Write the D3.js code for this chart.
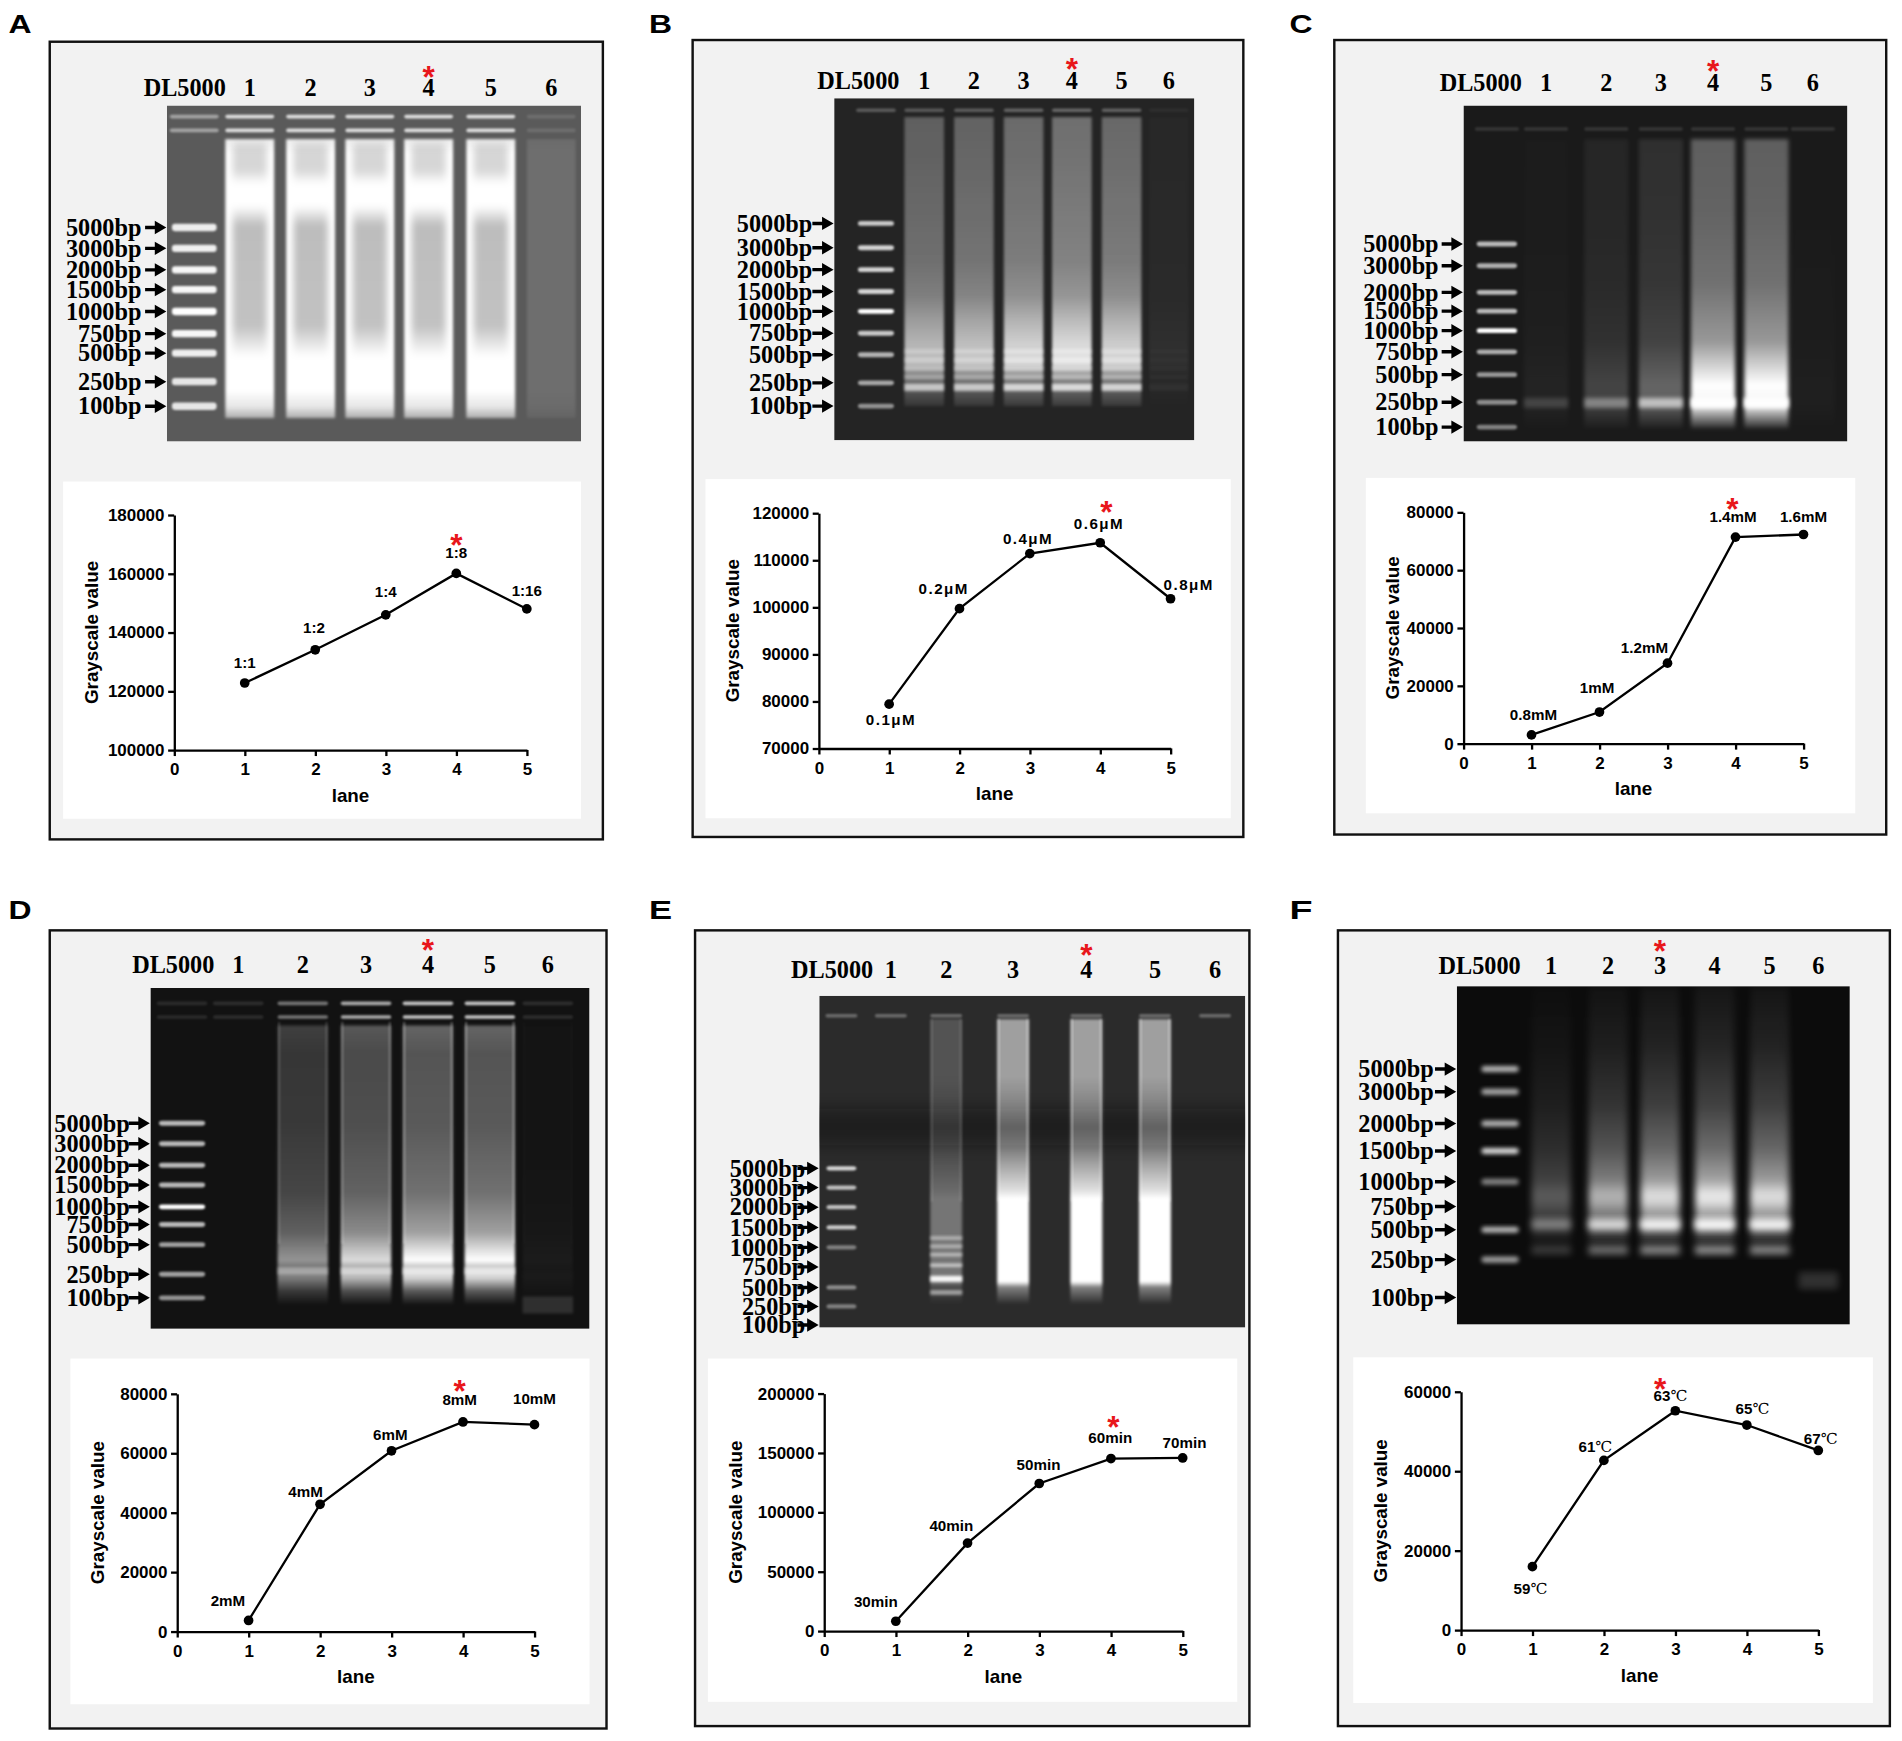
<!DOCTYPE html>
<meta charset="UTF-8">
<style>
body { margin: 0; background: #fff; }
.axis text { font: bold 14px "Liberation Sans", Arial, sans-serif; fill: #000; }
.axis path, .axis line { stroke: #000; stroke-width: 1.9px; }
.title { font: bold 15.5px "Liberation Sans", Arial, sans-serif; }
.plabel { font: bold 12.5px "Liberation Sans", Arial, sans-serif; }
.unit { font: normal 12.5px "DejaVu Serif", "Liberation Serif", serif; }
.gellab { font: bold 20px "Liberation Serif", "Times New Roman", serif; }
.letter { font: bold 22px "Liberation Sans", Arial, sans-serif; }
.star { font: bold 26px "Liberation Sans", Arial, sans-serif; fill: #e8161b; }
</style>
<body>
<script src="https://d3js.org/d3.v7.min.js"></script>
<script>

// ---------- data ----------
var markerLabels = ["5000bp","3000bp","2000bp","1500bp","1000bp","750bp","500bp","250bp","100bp"];
var laneNames = ["1","2","3","4","5","6"];
var lanes = [1,2,3,4,5];
var xTicks = [0,1,2,3,4,5];

var valuesA = [122800,134100,146000,160100,148000];
var valuesB = [79400,99700,111400,113700,101800];
var valuesC = [3000,10900,27800,71400,72300];
var valuesD = [3700,42800,60800,70500,69600];
var valuesE = [8200,74000,124200,145200,145700];
var valuesF = [15950,42700,55200,51600,45200];

var pointLabelsA = ["1:1","1:2","1:4","1:8","1:16"];
var pointLabelsB = ["0.1μM","0.2μM","0.4μM","0.6μM","0.8μM"];
var pointLabelsC = ["0.8mM","1mM","1.2mM","1.4mM","1.6mM"];
var pointLabelsD = ["2mM","4mM","6mM","8mM","10mM"];
var pointLabelsE = ["30min","40min","50min","60min","70min"];
var pointLabelsF = ["59℃","61℃","63℃","65℃","67℃"];

var yTicksA = [100000,120000,140000,160000,180000];
var yTicksB = [70000,80000,90000,100000,110000,120000];
var yTicksC = [0,20000,40000,60000,80000];
var yTicksD = [0,20000,40000,60000,80000];
var yTicksE = [0,50000,100000,150000,200000];
var yTicksF = [0,20000,40000,60000];

// starred (optimal) lane of each panel
var bestLanes = [4,4,4,4,4,3];

// ladder band positions, fraction of gel height
var markerPosA = [0.363,0.425,0.489,0.548,0.613,0.679,0.737,0.822,0.895];
var markerPosB = [0.366,0.437,0.501,0.565,0.623,0.687,0.750,0.832,0.900];
var markerPosC = [0.412,0.477,0.556,0.612,0.670,0.733,0.801,0.883,0.957];
var markerPosD = [0.397,0.457,0.520,0.578,0.642,0.694,0.753,0.840,0.909];
var markerPosE = [0.520,0.578,0.637,0.698,0.758,0.817,0.879,0.936,0.992];
var markerPosF = [0.245,0.312,0.406,0.487,0.578,0.651,0.720,0.808,0.920];

// lane centres, fraction of gel width (ladder, lanes 1-6)
var laneXA = [0.066,0.200,0.347,0.490,0.632,0.782,0.928];
var laneXB = [0.116,0.250,0.388,0.526,0.660,0.798,0.929];
var laneXC = [0.087,0.215,0.372,0.514,0.650,0.789,0.910];
var laneXD = [0.072,0.200,0.347,0.491,0.632,0.773,0.905];
var laneXE = [0.052,0.168,0.298,0.455,0.627,0.788,0.929];
var laneXF = [0.110,0.240,0.385,0.517,0.656,0.796,0.920];

// smear strength and product band strength of lanes 1-6
var laneLevelA = [1,1,1,1,1,0.12];
var laneLevelB = [0.8,0.85,0.95,1,0.93,0.06];
var laneLevelC = [0.04,0.18,0.32,1,1,0.02];
var laneLevelD = [0,0.55,0.85,1,1,0.04];
var laneLevelE = [0,0.35,1,1,1,0];
var laneLevelF = [0.35,0.75,0.95,1,0.95,0];
var bandLevelA = [1,1,1,1,1,0.1];
var bandLevelB = [0.85,0.88,0.97,1,0.95,0.05];
var bandLevelC = [0.15,0.35,0.6,1,1,0];
var bandLevelD = [0,0.6,0.85,1,1,0];
var bandLevelE = [0,0,1,1,1,0];
var bandLevelF = [0.35,0.75,0.95,1,0.95,0];

var ladderOpA = [0.9,0.9,0.95,0.95,1,0.95,0.9,0.85,0.85];
var ladderOpB = [0.75,0.8,0.8,0.8,1,0.75,0.65,0.6,0.5];
var ladderOpC = [0.7,0.65,0.7,0.7,1,0.65,0.55,0.5,0.45];
var ladderOpD = [0.7,0.7,0.7,0.7,1,0.7,0.6,0.6,0.55];
var ladderOpE = [0.8,0.7,0.7,0.75,0.4,0,0.45,0.4,0];
var ladderOpF = [0.7,0.65,0.7,0.85,0.5,0,0.7,0.6,0];

// ---------- layout / style per panel ----------
var panels = [
  {key:"A", letter:[7,27.5], box:[41,34.4,456,657.6], gel:[137.6,87,341.4,277], headY:79.3, starY:57.8, dlX:0.043, gap:21,
   chartBox:[52,397,427,278], plot:[143.6,434.3,618.3,424.5], titleOff:68,
   values:valuesA, labels:pointLabelsA, yTicks:yTicksA, best:bestLanes[0], spacing:0,
   dx:[0,-1,0,0,0], dy:[-12.6,-14,-14.5,-13,-11], starOff:[0,-29.6],
   markerPos:markerPosA, laneX:laneXA, level:laneLevelA, bandLevel:bandLevelA, ladderOp:ladderOpA,
   style:{bg:"#5a5a5a", wells:[0.033,0.074], wellOp:0.8, wellLadder:0.45, wellsByLevel:true, ladderW:0.108, ladderH:6, laneW:0.118,
     smear:[0.1,0.93], stops:[[0,0.9],[0.05,1],[0.9,1],[0.96,0.85],[1,0.5]],
     core:{w:0.7, stops:[[0,0],[0.03,0.16],[0.11,0.16],[0.16,0],[0.24,0],[0.31,0.26],[0.67,0.24],[0.78,0],[1,0]]},
     bands:[], blur:1.5, lblur:1}},
  {key:"B", letter:[535,27.5], box:[571,33,454,657], gel:[687.7,81,296.9,282], headY:73, starY:50.8, dlX:0.067, gap:18,
   chartBox:[581.6,395,433,279.6], plot:[675,965,617,423], titleOff:71,
   values:valuesB, labels:pointLabelsB, yTicks:yTicksB, best:bestLanes[1], spacing:1.2,
   dx:[1.5,-13,-1.5,-1,15], dy:[17,-12,-7.5,-11,-7], starOff:[5,-31],
   markerPos:markerPosB, laneX:laneXB, level:laneLevelB, bandLevel:bandLevelB, ladderOp:ladderOpB,
   style:{bg:"#242424", wells:[0.035], wellOp:0.3, wellLadder:0.25, wellsByLevel:true, ladderW:0.1, ladderH:4, laneW:0.11,
     smear:[0.055,0.9], stops:[[0,0.34],[0.15,0.36],[0.35,0.4],[0.5,0.43],[0.62,0.52],[0.7,0.68],[0.78,0.82],[0.85,0.88],[0.9,0.45],[1,0.1]],
     bands:[[0.74,4,0.3],[0.765,4,0.3],[0.79,4,0.35],[0.815,4,0.4],[0.845,6,0.75]], blur:1.5, lblur:0.8}},
  {key:"C", letter:[1063,27.5], box:[1100,33,455,655], gel:[1206.5,87,316.5,277], headY:74.7, starY:53, dlX:0.045, gap:20.5,
   chartBox:[1126,394,403.5,276.5], plot:[1206.5,1486.8,613,422.3], titleOff:58.5,
   values:valuesC, labels:pointLabelsC, yTicks:yTicksC, best:bestLanes[2], spacing:0,
   dx:[1.6,-2,-19,-2,0], dy:[-12,-15.7,-8,-12.5,-10.3], starOff:[-2.5,-29],
   markerPos:markerPosC, laneX:laneXC, level:laneLevelC, bandLevel:bandLevelC, ladderOp:ladderOpC,
   style:{bg:"#1a1a1a", wells:[0.07], wellOp:0.12, wellLadder:0.12, wellsByLevel:false, ladderW:0.105, ladderH:4, laneW:0.115,
     smear:[0.1,0.96], stops:[[0,0.3],[0.25,0.32],[0.5,0.38],[0.7,0.55],[0.8,0.85],[0.85,1],[0.92,0.95],[0.97,0.4],[1,0.1]],
     bands:[[0.885,8,1]], blur:1.6, lblur:0.8}},
  {key:"D", letter:[7,758], box:[41,767,459,658], gel:[124,814.5,362,281], headY:802, starY:777.3, dlX:0.052, gap:17,
   chartBox:[58,1120,428,285], plot:[146,440.6,1345,1149], titleOff:65.5,
   values:valuesD, labels:pointLabelsD, yTicks:yTicksD, best:bestLanes[3], spacing:0,
   dx:[-17,-12,-1,-2.7,0], dy:[-12,-6,-9,-14,-16.6], starOff:[-2.7,-31],
   markerPos:markerPosD, laneX:laneXD, level:laneLevelD, bandLevel:bandLevelD, ladderOp:ladderOpD,
   style:{bg:"#121212", wells:[0.045,0.085], wellOp:0.75, wellLadder:0.1, wellsByLevel:true, ladderW:0.105, ladderH:4, laneW:0.115,
     smear:[0.11,0.93], stops:[[0,0.35],[0.1,0.28],[0.35,0.3],[0.6,0.4],[0.74,0.6],[0.8,0.85],[0.84,1],[0.87,0.7],[0.9,0.85],[0.95,0.3],[1,0]],
     edge:[0.1,0.75,0.35],
     bands:[[0.83,6,0.6]], extra:{5:[[0.93,14,0.12]]}, blur:1.3, lblur:0.8}},
  {key:"E", letter:[535,758], box:[573,767,457,656], gel:[675.4,821,351.2,273.5], headY:806.3, starY:781.7, dlX:0.030, gap:11.5,
   chartBox:[583.6,1120,436.4,283], plot:[679.4,975,1344.6,1148.8], titleOff:73,
   values:valuesE, labels:pointLabelsE, yTicks:yTicksE, best:bestLanes[4], spacing:0,
   dx:[-16.5,-13.4,-0.6,-0.6,1.5], dy:[-12,-10,-11,-13,-8.5], starOff:[2,-32],
   markerPos:markerPosE, laneX:laneXE, level:laneLevelE, bandLevel:bandLevelE, ladderOp:ladderOpE,
   style:{bg:"#2b2b2b", darkBand:[0.34,0.11], wells:[0.06], wellOp:0.3, wellLadder:0.3, wellsByLevel:false, ladderW:0.07, ladderH:3.5, laneW:0.075,
     smear:[0.07,0.93], stops:[[0,0.55],[0.2,0.55],[0.3,0.42],[0.38,0.3],[0.45,0.38],[0.52,0.6],[0.6,0.85],[0.63,1],[0.92,1],[0.94,0.4],[1,0]],
     edge:[0.07,0.62,0.45],
     bands:[], extra:{1:[[0.73,3,0.45],[0.755,3,0.45],[0.78,3,0.5],[0.812,3,0.6],[0.853,5,0.95],[0.894,4,0.5]]}, blur:1.2, lblur:0.7}},
  {key:"F", letter:[1063,758], box:[1103,767,455,656], gel:[1201,813,324,279], headY:802.7, starY:778, dlX:0.058, gap:19,
   chartBox:[1115.6,1119,428.4,285], plot:[1204.4,1499,1343.8,1147.3], titleOff:65.7,
   values:valuesF, labels:pointLabelsF, yTicks:yTicksF, best:bestLanes[5], spacing:0,
   dx:[-1.6,-7,-4,4.7,2], dy:[22.7,-6.7,-8,-9,-5.4], starOff:[-12.5,-23.4],
   markerPos:markerPosF, laneX:laneXF, level:laneLevelF, bandLevel:bandLevelF, ladderOp:ladderOpF,
   style:{bg:"#0c0c0c", wells:[], wellOp:0, wellLadder:0, wellsByLevel:true, ladderW:0.095, ladderH:5, laneW:0.1,
     smear:[0.0,0.88], stops:[[0,0.04],[0.2,0.1],[0.4,0.22],[0.55,0.4],[0.65,0.62],[0.7,0.92],[0.73,0.85],[0.76,0.6],[0.79,0.7],[0.83,0.3],[0.88,0]],
     bands:[[0.705,8,1],[0.78,7,0.55]], extra:{5:[[0.87,14,0.15]]}, blur:3, lblur:1.8}}
];

var svg = d3.select("body").append("svg")
    .attr("width", 1902)
    .attr("height", 1741)
    .attr("viewBox", "0 0 1568 1435.3");
svg.append("rect").attr("width", 1568).attr("height", 1436).attr("fill", "#fff");
var defs = svg.append("defs");

panels.forEach(function(p) {
  var g = svg.append("g");
  g.append("text").attr("class", "letter")
      .attr("x", p.letter[0]).attr("y", p.letter[1])
      .attr("textLength", 19).attr("lengthAdjust", "spacingAndGlyphs")
      .text(p.key);
  g.append("rect")
      .attr("x", p.box[0]).attr("y", p.box[1]).attr("width", p.box[2]).attr("height", p.box[3])
      .attr("fill", "#f2f2f2").attr("stroke", "#111").attr("stroke-width", 2);
  drawGel(g, p);
  drawChart(g, p);
});

function gradient(id, color, stops) {
  var grad = defs.append("linearGradient").attr("id", id)
      .attr("x1", 0).attr("y1", 0).attr("x2", 0).attr("y2", 1);
  stops.forEach(function(st) {
    grad.append("stop").attr("offset", st[0]).attr("stop-color", color).attr("stop-opacity", st[1]);
  });
}

function drawGel(g, p) {
  var s = p.style;
  var gw = p.gel[2], gh = p.gel[3];
  var gx = d3.scaleLinear().range([p.gel[0], p.gel[0] + gw]);
  var gy = d3.scaleLinear().range([p.gel[1], p.gel[1] + gh]);

  defs.append("clipPath").attr("id", "clip" + p.key).append("rect")
      .attr("x", p.gel[0]).attr("y", p.gel[1]).attr("width", gw).attr("height", gh);
  [["sm", s.blur], ["lb", s.lblur], ["bg", 6], ["co", 3]].forEach(function(f) {
    defs.append("filter").attr("id", f[0] + p.key)
        .attr("x", "-60%").attr("y", "-60%").attr("width", "220%").attr("height", "220%")
      .append("feGaussianBlur").attr("stdDeviation", f[1]);
  });
  gradient("grad" + p.key, "#fff", s.stops);
  if (s.core) gradient("core" + p.key, "#000", s.core.stops);

  var gg = g.append("g").attr("clip-path", "url(#clip" + p.key + ")");
  gg.append("rect")
      .attr("x", p.gel[0]).attr("y", p.gel[1]).attr("width", gw).attr("height", gh)
      .attr("fill", s.bg);

  if (s.darkBand) {
    gg.append("rect")
        .attr("x", p.gel[0] - 20).attr("width", gw + 40)
        .attr("y", gy(s.darkBand[0])).attr("height", gh * s.darkBand[1])
        .attr("fill", "#0e0e0e").attr("opacity", 0.38)
        .attr("filter", "url(#bg" + p.key + ")");
  }

  // wells
  s.wells.forEach(function(wy) {
    gg.selectAll(null).data(p.laneX).enter().append("rect")
        .attr("x", function(d) { return gx(d) - gw * s.laneW / 2; })
        .attr("width", gw * s.laneW)
        .attr("y", gy(wy) - 1.5).attr("height", 3).attr("rx", 1.5)
        .attr("fill", "#fff")
        .attr("opacity", function(d, i) {
          if (i === 0) return s.wellLadder;
          return s.wellOp * (s.wellsByLevel ? Math.max(p.level[i - 1], 0.15) : 1);
        })
        .attr("filter", "url(#lb" + p.key + ")");
  });

  // DL5000 ladder
  gg.selectAll(null).data(p.markerPos).enter().append("rect")
      .attr("x", gx(p.laneX[0]) - gw * s.ladderW / 2)
      .attr("width", gw * s.ladderW)
      .attr("y", function(d) { return gy(d) - s.ladderH / 2; })
      .attr("height", s.ladderH).attr("rx", 2.5)
      .attr("fill", "#fff")
      .attr("opacity", function(d, i) { return p.ladderOp[i]; })
      .attr("filter", "url(#lb" + p.key + ")");

  // sample lanes
  p.laneX.slice(1).forEach(function(lx, i) {
    var w = gw * s.laneW, x0 = gx(lx) - w / 2;
    var top = gy(s.smear[0]), h = gy(s.smear[1]) - top;
    if (p.level[i] > 0) {
      gg.append("rect")
          .attr("x", x0).attr("width", w).attr("y", top).attr("height", h)
          .attr("fill", "url(#grad" + p.key + ")")
          .attr("opacity", p.level[i])
          .attr("filter", "url(#sm" + p.key + ")");
      if (s.core && p.level[i] > 0.5) {
        gg.append("rect")
            .attr("x", gx(lx) - w * s.core.w / 2).attr("width", w * s.core.w)
            .attr("y", top).attr("height", h)
            .attr("fill", "url(#core" + p.key + ")")
            .attr("filter", "url(#co" + p.key + ")");
      }
      if (s.edge) {
        [x0 + 0.5, x0 + w - 2].forEach(function(ex) {
          gg.append("rect")
              .attr("x", ex).attr("width", 1.5)
              .attr("y", gy(s.edge[0])).attr("height", gy(s.edge[1]) - gy(s.edge[0]))
              .attr("fill", "#fff").attr("opacity", s.edge[2] * p.level[i])
              .attr("filter", "url(#lb" + p.key + ")");
        });
      }
    }
    s.bands.forEach(function(b) {
      if (p.bandLevel[i] <= 0) return;
      gg.append("rect")
          .attr("x", x0).attr("width", w)
          .attr("y", gy(b[0]) - b[1] / 2).attr("height", b[1])
          .attr("fill", "#fff").attr("opacity", b[2] * p.bandLevel[i])
          .attr("filter", "url(#sm" + p.key + ")");
    });
    ((s.extra && s.extra[i]) || []).forEach(function(b) {
      gg.append("rect")
          .attr("x", x0).attr("width", w)
          .attr("y", gy(b[0]) - b[1] / 2).attr("height", b[1])
          .attr("fill", "#fff").attr("opacity", b[2])
          .attr("filter", "url(#sm" + p.key + ")");
    });
  });

  // header: DL5000 and lane numbers
  g.append("text").attr("class", "gellab")
      .attr("x", gx(p.dlX)).attr("y", p.headY).attr("text-anchor", "middle").text("DL5000");
  g.selectAll(null).data(laneNames).enter().append("text")
      .attr("class", "gellab")
      .attr("x", function(d, i) { return gx(p.laneX[i + 1]); })
      .attr("y", p.headY).attr("text-anchor", "middle")
      .text(function(d) { return d; });
  g.append("text").attr("class", "star")
      .attr("x", gx(p.laneX[p.best])).attr("y", p.starY).attr("dy", "0.575em")
      .attr("text-anchor", "middle").text("*");

  // marker labels with arrows
  var left = p.gel[0];
  g.selectAll(null).data(markerLabels).enter().append("text")
      .attr("class", "gellab")
      .attr("x", left - p.gap)
      .attr("y", function(d, i) { return gy(p.markerPos[i]); })
      .attr("dy", "0.34em").attr("text-anchor", "end")
      .text(function(d) { return d; });
  g.selectAll(null).data(p.markerPos).enter().append("path")
      .attr("d", function(d) {
        var y = gy(d);
        return "M" + (left - 18) + "," + (y - 1.4) + "H" + (left - 10) + "V" + (y - 5.5) +
               "L" + (left - 0.5) + "," + y + "L" + (left - 10) + "," + (y + 5.5) +
               "V" + (y + 1.4) + "H" + (left - 18) + "Z";
      })
      .attr("fill", "#000");
}

function drawChart(g, p) {
  g.append("rect")
      .attr("x", p.chartBox[0]).attr("y", p.chartBox[1])
      .attr("width", p.chartBox[2]).attr("height", p.chartBox[3])
      .attr("fill", "#fff");

  var yTicks = p.yTicks;
  var x = d3.scaleLinear().domain([0, 5]).range([p.plot[0], p.plot[1]]);
  var y = d3.scaleLinear().domain([yTicks[0], yTicks[yTicks.length - 1]]).range([p.plot[2], p.plot[3]]);

  g.append("g").attr("class", "axis")
      .attr("transform", "translate(0," + p.plot[2] + ")")
      .call(d3.axisBottom(x).tickValues(xTicks).tickSize(5).tickSizeOuter(0).tickPadding(6).tickFormat(d3.format("d")));
  g.append("g").attr("class", "axis")
      .attr("transform", "translate(" + p.plot[0] + ",0)")
      .call(d3.axisLeft(y).tickValues(yTicks).tickSize(5).tickSizeOuter(0).tickPadding(3).tickFormat(d3.format("d")));

  g.append("text").attr("class", "title")
      .attr("x", x(2.5)).attr("y", p.plot[2] + 42.5)
      .attr("text-anchor", "middle").text("lane");
  g.append("text").attr("class", "title")
      .attr("transform", "translate(" + (p.plot[0] - p.titleOff + 5) + "," + ((p.plot[2] + p.plot[3]) / 2) + ") rotate(-90)")
      .attr("text-anchor", "middle").text("Grayscale value");

  var line = d3.line()
      .x(function(d, i) { return x(lanes[i]); })
      .y(function(d) { return y(d); });
  g.append("path").datum(p.values)
      .attr("d", line).attr("fill", "none").attr("stroke", "#000").attr("stroke-width", 1.9);

  g.selectAll(null).data(p.values).enter().append("circle")
      .attr("cx", function(d, i) { return x(lanes[i]); })
      .attr("cy", function(d) { return y(d); })
      .attr("r", 4).attr("fill", "#000");

  var lab = g.selectAll(null).data(p.labels).enter().append("text")
      .attr("class", "plabel")
      .attr("x", function(d, i) { return x(lanes[i]) + p.dx[i]; })
      .attr("y", function(d, i) { return y(p.values[i]) + p.dy[i]; })
      .attr("text-anchor", "middle")
      .style("letter-spacing", p.spacing + "px");
  lab.each(function(d) {
    var t = d3.select(this);
    if (d.slice(-1) === "℃") {
      t.append("tspan").text(d.slice(0, -1));
      t.append("tspan").attr("class", "unit").text("℃");
    } else {
      t.text(d);
    }
  });

  var bi = p.best - 1;
  g.append("text").attr("class", "star")
      .attr("x", x(lanes[bi]) + p.starOff[0])
      .attr("y", y(p.values[bi]) + p.starOff[1])
      .attr("dy", "0.575em").attr("text-anchor", "middle").text("*");
}

</script>
</body>
